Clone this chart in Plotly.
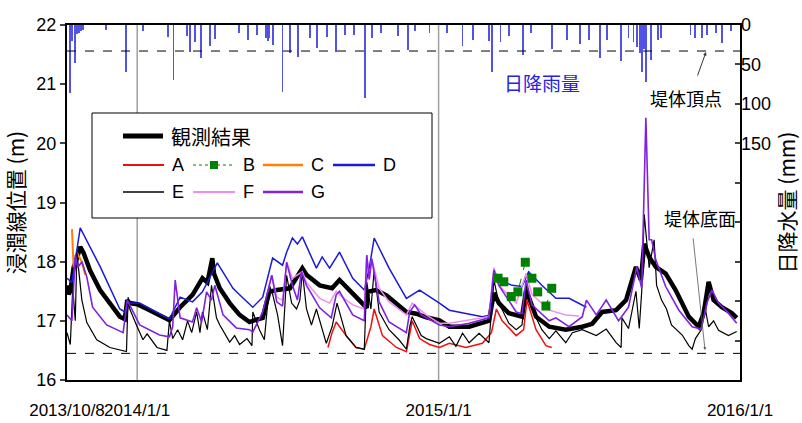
import pandas as pd
import plotly.graph_objects as go

START = pd.Timestamp("2013-10-08")

# ---- data (elapsed days since 2013/10/8, value) ----
obs_day = [0, 2, 4, 8, 13, 16, 20, 28, 40, 52, 64, 70, 73, 76, 85, 100, 115, 124, 137, 152, 164, 170, 176, 178, 185, 197, 209, 221, 225, 237, 245, 254, 270, 285, 290, 306, 321, 330, 342, 358, 363, 364, 374, 387, 411, 423, 435, 451, 463, 487, 511, 517, 523, 535, 551, 556, 568, 584, 604, 624, 636, 648, 665, 677, 689, 695, 699, 705, 713, 725, 737, 753, 765, 771, 777, 783, 793, 805, 811]
obs_val = [17.6, 17.45, 17.5, 17.9, 18.1, 18.25, 18.15, 17.85, 17.52, 17.3, 17.07, 17.03, 17.35, 17.3, 17.28, 17.18, 17.08, 17.01, 17.23, 17.44, 17.72, 17.65, 18.06, 17.8, 17.55, 17.3, 17.1, 16.98, 17.0, 17.05, 17.49, 17.52, 17.55, 17.89, 17.78, 17.6, 17.55, 17.69, 17.52, 17.27, 17.22, 17.49, 17.52, 17.43, 17.15, 17.12, 17.06, 17.01, 16.9, 16.9, 17.0, 17.47, 17.3, 17.13, 17.07, 17.52, 17.07, 16.9, 16.85, 16.9, 16.95, 17.15, 17.18, 17.35, 17.91, 17.69, 18.3, 18.08, 17.91, 17.8, 17.52, 17.07, 16.9, 17.13, 17.66, 17.35, 17.23, 17.13, 17.05]

a_day = [316, 321, 326, 338, 350, 360, 368, 372, 382, 399, 411, 415, 418, 427, 439, 451, 463, 483, 503, 514, 520, 527, 544, 553, 557, 568, 580, 587]
a_val = [16.55, 16.8, 16.98, 16.75, 16.55, 16.52, 16.9, 17.2, 16.75, 16.55, 16.48, 16.8, 17.0, 16.7, 16.6, 16.55, 16.62, 16.55, 16.62, 16.8, 17.2, 17.0, 16.75, 16.85, 17.35, 16.85, 16.58, 16.55]

b_day = [522, 529, 538, 546, 555, 563, 570, 580, 587]
b_val = [17.72, 17.66, 17.41, 17.49, 17.99, 17.72, 17.49, 17.25, 17.55]

c_day = [6, 7, 8, 12, 18, 22]
c_val = [18.55, 18.2, 17.9, 18.15, 18.0, 17.78]

d_day = [0, 6, 16, 40, 64, 70, 73, 88, 124, 137, 152, 164, 182, 201, 209, 225, 237, 249, 261, 266, 273, 279, 285, 302, 309, 318, 330, 346, 360, 366, 372, 390, 411, 427, 451, 463, 503, 514, 517, 523, 539, 551, 559, 575, 592, 608, 629]
d_val = [17.72, 17.65, 18.57, 17.92, 17.2, 17.15, 17.3, 17.3, 17.03, 17.4, 17.32, 17.49, 17.98, 17.55, 17.44, 17.23, 17.4, 18.06, 17.94, 18.16, 18.4, 18.3, 18.42, 17.89, 18.08, 17.89, 18.16, 17.72, 17.52, 17.89, 18.4, 17.89, 17.38, 17.52, 17.3, 17.18, 17.07, 17.1, 17.86, 17.69, 17.6, 17.58, 17.83, 17.6, 17.38, 17.38, 17.23]

e_day = [0, 4, 7, 10, 12, 18, 24, 36, 52, 68, 72, 74, 76, 85, 92, 97, 109, 121, 124, 128, 134, 140, 146, 151, 157, 161, 164, 170, 175, 181, 185, 197, 203, 209, 218, 224, 225, 233, 239, 245, 249, 255, 261, 266, 272, 278, 282, 285, 290, 296, 302, 314, 321, 327, 338, 350, 360, 363, 368, 372, 378, 390, 402, 411, 415, 418, 429, 435, 451, 463, 471, 479, 487, 499, 511, 517, 523, 535, 544, 551, 556, 563, 575, 584, 592, 604, 612, 624, 632, 641, 653, 665, 671, 672, 680, 689, 693, 696, 699, 705, 711, 714, 720, 726, 732, 745, 753, 757, 761, 768, 773, 777, 783, 789, 801, 811]
e_val = [16.8, 16.6, 17.57, 17.0, 18.15, 17.35, 16.97, 16.68, 16.55, 16.5, 16.48, 17.4, 17.2, 16.9, 16.68, 16.78, 16.55, 16.5, 17.0, 16.7, 16.85, 16.68, 17.0, 16.8, 17.15, 16.8, 17.15, 16.85, 17.6, 17.05, 16.93, 16.64, 16.75, 16.6, 16.7, 16.58, 17.15, 16.85, 16.68, 17.6, 17.45, 17.1, 16.58, 17.77, 17.3, 17.2, 17.35, 17.83, 17.2, 16.93, 17.2, 16.62, 16.9, 17.3, 16.75, 16.55, 16.52, 17.66, 17.2, 17.86, 17.15, 16.85, 16.68, 16.52, 16.9, 17.07, 16.75, 16.7, 16.62, 16.73, 16.57, 16.79, 16.63, 16.79, 16.63, 17.69, 17.3, 16.96, 16.85, 16.93, 17.6, 17.2, 16.85, 16.7, 16.83, 16.63, 16.8, 16.85, 16.8, 16.75, 16.86, 16.63, 16.55, 17.05, 16.87, 17.5, 16.87, 17.5, 18.8, 17.9, 18.37, 17.6, 17.35, 17.2, 16.93, 16.76, 16.58, 16.52, 16.7, 16.85, 17.2, 16.9, 17.0, 16.84, 16.75, 16.82]

f_day = [243, 248, 254, 261, 266, 273, 285, 290, 306, 318, 326, 330, 346, 360, 363, 366, 369, 378, 390, 411, 418, 435, 451, 463, 511, 517, 523, 544, 556, 563, 584, 604, 620]
f_val = [17.49, 17.77, 17.4, 17.35, 17.99, 17.72, 17.83, 17.65, 17.38, 17.3, 17.5, 17.44, 17.27, 17.2, 18.11, 17.7, 18.05, 17.55, 17.32, 17.1, 17.3, 17.1, 16.96, 16.96, 17.07, 17.9, 17.6, 17.3, 17.8, 17.45, 17.18, 17.1, 17.08]

g_day = [0, 6, 10, 13, 18, 24, 31, 48, 68, 73, 88, 112, 124, 128, 131, 137, 152, 157, 163, 169, 175, 179, 189, 205, 221, 225, 237, 243, 248, 254, 261, 266, 273, 279, 284, 290, 306, 320, 326, 330, 346, 360, 363, 366, 369, 378, 390, 411, 415, 421, 429, 451, 463, 487, 511, 517, 523, 544, 551, 556, 563, 584, 592, 608, 624, 629, 641, 653, 668, 680, 690, 696, 701, 705, 708, 713, 725, 741, 757, 768, 775, 781, 789, 801, 811]
g_val = [17.1, 17.0, 18.11, 17.9, 18.0, 17.74, 17.23, 16.93, 16.8, 17.35, 16.93, 16.76, 16.73, 16.9, 17.69, 17.05, 16.98, 17.22, 16.98, 17.49, 17.35, 17.6, 17.1, 16.88, 16.85, 16.81, 17.15, 17.49, 17.77, 17.32, 17.25, 17.99, 17.6, 17.35, 17.83, 17.6, 17.22, 17.05, 17.44, 17.5, 17.1, 17.0, 18.11, 17.7, 18.05, 17.32, 16.98, 16.8, 17.15, 17.27, 17.1, 16.93, 16.9, 16.96, 17.05, 17.86, 17.6, 17.15, 17.12, 17.69, 17.27, 17.0, 17.05, 16.9, 17.07, 17.35, 17.1, 17.35, 17.0, 17.23, 17.91, 17.55, 20.43, 18.37, 18.37, 18.03, 17.58, 17.18, 16.9, 16.86, 17.3, 17.52, 17.3, 17.13, 16.96]

rain_day = [4, 6, 10, 12, 15, 17, 19, 47, 71, 92, 122, 129, 145, 149, 155, 162, 173, 179, 208, 219, 230, 241, 243, 245, 250, 261, 270, 280, 294, 303, 315, 326, 337, 348, 361, 369, 380, 401, 413, 421, 439, 460, 479, 492, 511, 515, 525, 535, 552, 562, 587, 606, 621, 632, 645, 654, 671, 680, 686, 690, 694, 696, 699, 701, 707, 716, 719, 755, 761, 769, 775, 786, 793, 804]
rain_mm = [86, 20, 48, 12, 10, 8, 6, 6, 59, 8, 15, 70, 14, 34, 22, 42, 27, 18, 10, 19, 13, 17, 20, 16, 25, 85, 36, 40, 17, 29, 15, 34, 13, 13, 92, 16, 10, 14, 32, 7, 10, 10, 27, 19, 20, 60, 22, 14, 38, 10, 30, 19, 24, 19, 42, 19, 46, 16, 22, 28, 35, 60, 30, 72, 44, 19, 16, 13, 16, 17, 13, 10, 23, 8]

x_tick_dates = ["2013-10-08", "2014-01-01", "2015-01-01", "2016-01-01"]
x_tick_text = ["2013/10/8", "2014/1/1", "2015/1/1", "2016/1/1"]
crest_level = 21.56
base_level = 16.45


def to_dates(days):
    return START + pd.to_timedelta(days, unit="D")


FONT = "Liberation Sans, Noto Sans CJK JP, sans-serif"
JP = "Noto Sans CJK JP, sans-serif"

C_OBS = "#000000"
C_A = "#ee1010"
C_B = "#008000"
C_C = "#ff8000"
C_D = "#1a1ad8"
C_E = "#000000"
C_F = "#f08cf0"
C_G = "#8020e0"

fig = go.Figure()
fig.add_trace(go.Bar(x=to_dates(rain_day), y=rain_mm, yaxis="y2",
                     marker=dict(color="#3535e0", line=dict(width=0)),
                     width=86400000 * 1.1, opacity=0.85))
fig.add_trace(go.Scatter(x=to_dates(obs_day), y=obs_val, mode="lines",
                         line=dict(color=C_OBS, width=4.5)))
fig.add_trace(go.Scatter(x=to_dates(a_day), y=a_val, mode="lines",
                         line=dict(color=C_A, width=1.5)))
fig.add_trace(go.Scatter(x=to_dates(c_day), y=c_val, mode="lines",
                         line=dict(color=C_C, width=2)))
fig.add_trace(go.Scatter(x=to_dates(d_day), y=d_val, mode="lines",
                         line=dict(color=C_D, width=1.5)))
fig.add_trace(go.Scatter(x=to_dates(e_day), y=e_val, mode="lines",
                         line=dict(color=C_E, width=1.2)))
fig.add_trace(go.Scatter(x=to_dates(f_day), y=f_val, mode="lines",
                         line=dict(color=C_F, width=1.5)))
fig.add_trace(go.Scatter(x=to_dates(g_day), y=g_val, mode="lines",
                         line=dict(color=C_G, width=1.6)))
fig.add_trace(go.Scatter(x=to_dates(b_day), y=b_val, mode="lines+markers",
                         line=dict(color=C_B, width=1, dash="dash"),
                         marker=dict(color=C_B, symbol="square", size=9)))

shapes = []
for d in ["2014-01-01", "2015-01-01"]:
    shapes.append(dict(type="line", xref="x", yref="paper", x0=d, x1=d, y0=0, y1=1,
                       line=dict(color="#a0a0a0", width=1.5), layer="below"))
for lvl in [crest_level, base_level]:
    shapes.append(dict(type="line", xref="paper", yref="y", x0=0, x1=1, y0=lvl, y1=lvl,
                       line=dict(color="black", width=1, dash="dash")))

# legend box (pixel -> paper helpers)
PL, PW, PB, PH = 67, 673, 380, 355
def px(x):
    return (x - PL) / PW
def py(y):
    return (PB - y) / PH

shapes.append(dict(type="rect", xref="paper", yref="paper", x0=px(92), x1=px(432),
                   y0=py(218), y1=py(113), fillcolor="white",
                   line=dict(color="black", width=1), layer="above"))

annotations = []
def leg_item(x0, x1, y, color, width, label, dash="solid", size=18, family=FONT):
    shapes.append(dict(type="line", xref="paper", yref="paper", x0=px(x0), x1=px(x1),
                       y0=py(y), y1=py(y), line=dict(color=color, width=width, dash=dash),
                       layer="above"))
    annotations.append(dict(xref="paper", yref="paper", x=px(x1 + 6), y=py(y), text=label,
                            showarrow=False, xanchor="left", yanchor="middle",
                            font=dict(size=size, color="black", family=family)))

leg_item(123, 163, 136, C_OBS, 5, "観測結果", size=20, family=JP)
leg_item(123, 164, 165, C_A, 2, "A")
leg_item(193, 235, 165, C_B, 1, "B", dash="dot")
shapes.append(dict(type="rect", xref="paper", yref="paper", x0=px(210), x1=px(218),
                   y0=py(169), y1=py(161), fillcolor=C_B, line=dict(width=0), layer="above"))
leg_item(263, 303, 165, C_C, 2.5, "C")
leg_item(333, 375, 165, C_D, 2.5, "D")
leg_item(123, 164, 192, C_E, 1.5, "E")
leg_item(193, 235, 192, C_F, 2, "F")
leg_item(263, 303, 192, C_G, 2.5, "G")

annotations.append(dict(xref="paper", yref="paper", x=px(542), y=py(82), text="日降雨量",
                        xanchor="center", yanchor="middle", showarrow=False,
                        font=dict(size=19, color="#2323e0", family=JP)))
annotations.append(dict(xref="paper", yref="paper", x=px(686), y=py(98), text="堤体頂点",
                        xanchor="center", yanchor="middle", showarrow=False,
                        font=dict(size=18, color="black", family=JP)))
annotations.append(dict(xref="paper", yref="paper", x=px(700), y=py(218), text="堤体底面",
                        xanchor="center", yanchor="middle", showarrow=False,
                        font=dict(size=18, color="black", family=JP)))
annotations.append(dict(xref="paper", yref="paper", x=px(706), y=py(52), text="",
                        showarrow=True, ax=-9, ay=25, arrowhead=2, arrowsize=0.7,
                        arrowwidth=1, arrowcolor="#333", standoff=0, startstandoff=0))
annotations.append(dict(xref="paper", yref="paper", x=px(705), y=py(350), text="",
                        showarrow=True, ax=-12, ay=-113, arrowhead=2, arrowsize=0.7,
                        arrowwidth=0.8, arrowcolor="#555", standoff=0, startstandoff=0))

fig.update_layout(
    width=802, height=423,
    margin=dict(l=67, r=62, t=25, b=43, autoexpand=False),
    plot_bgcolor="white", paper_bgcolor="white",
    showlegend=False, bargap=0,
    font=dict(family=FONT, size=18, color="black"),
    shapes=shapes, annotations=annotations,
    xaxis=dict(type="date", range=["2013-10-08", "2016-01-01"],
               tickvals=x_tick_dates, ticktext=x_tick_text, tickangle=0,
               showgrid=False, zeroline=False, ticks="", automargin=False,
               showline=True, mirror=True, linecolor="black", linewidth=2,
               tickfont=dict(size=17), ticklabelstandoff=14),
    yaxis=dict(range=[16, 22], dtick=1, showgrid=False, zeroline=False,
               ticks="outside", ticklen=5, tickwidth=1.5, automargin=False,
               showline=True, mirror=True, linecolor="black", linewidth=2,
               tickfont=dict(size=18),
               title=dict(text="浸潤線位置 (m)", font=dict(size=21, family=JP), standoff=6)),
    yaxis2=dict(overlaying="y", side="right", range=[450, 0],
                tickvals=[0, 50, 100, 150, 200, 250, 300, 350, 400, 450],
                ticktext=["0", "50", "100", "150", "", "", "", "", "", ""],
                showgrid=False, zeroline=False, ticks="inside", ticklen=5, tickwidth=1.5,
                showline=False, tickfont=dict(size=18), automargin=False,
                title=dict(text="日降水量 (mm)", font=dict(size=21, family=JP), standoff=2)),
)

fig.write_html("out.html", config={"displayModeBar": False},
               post_script="document.body.style.margin='0';document.body.style.padding='0';")
